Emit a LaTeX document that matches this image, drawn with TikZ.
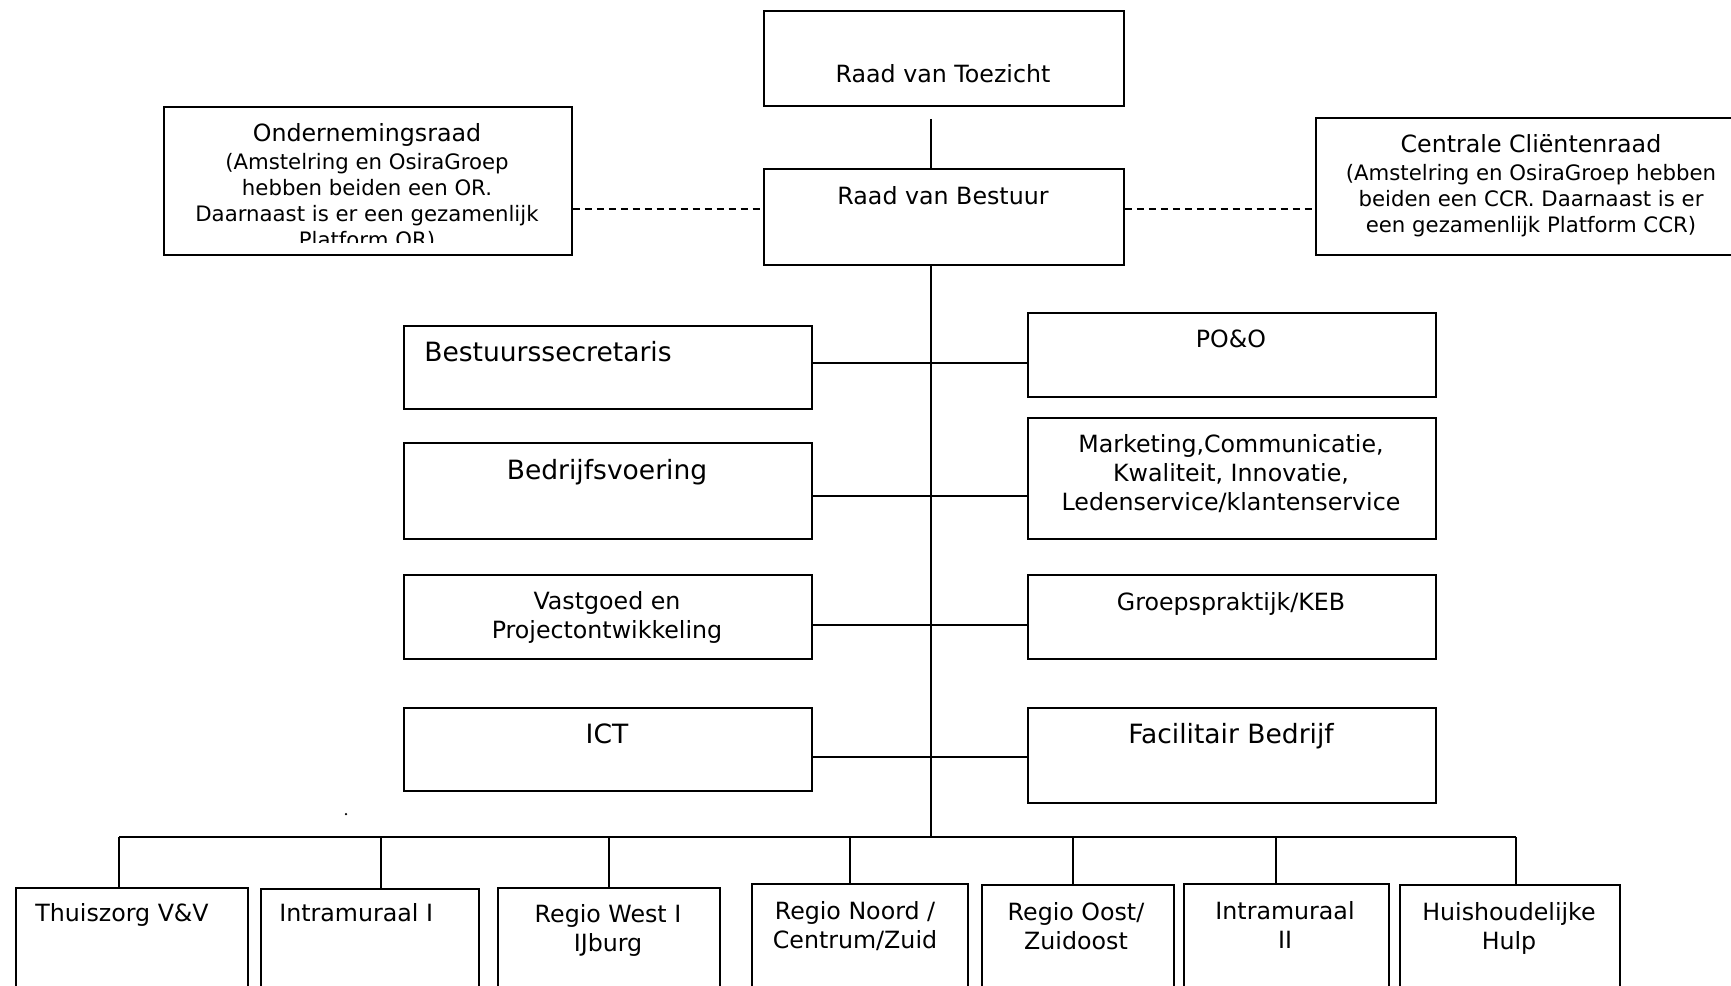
\documentclass[tikz,border=0pt]{standalone}
\usepackage{fontspec}
\setmainfont{DejaVu Sans}
\usetikzlibrary{positioning,calc}

\tikzset{
  box/.style={draw, line width=1pt, inner sep=0pt, anchor=north west},
  wh/.style n args={2}{minimum width=#1*0.02cm, minimum height=#2*0.02cm},
  txt/.style={inner sep=0pt, anchor=base, align=center, font=\fontsize{13.5}{16.5}\selectfont},
  big/.style={txt, font=\fontsize{15.1}{18}\selectfont},
  small/.style={txt, font=\fontsize{12.1}{14.7}\selectfont},
  conn/.style={line width=0.8pt},
  dotline/.style={line width=0.8pt, dash pattern=on 0.15cm off 0.09cm},
}

\begin{document}
\begin{tikzpicture}[x=0.02cm, y=-0.02cm]
\useasboundingbox (0,0) rectangle (1731,985);
\clip (0,0) rectangle (1731,985);

% top of the organisation
\node[box, wh={360}{95}]  (rvt) at (763,10) {};
\node[box, wh={360}{96}]  (rvb) at (763,168) {};
\node[box, wh={408}{148}] (or)  at (163,106) {};
\node[box, wh={416}{137}] (ccr) at (1315,117) {};

% staff
\node[box, wh={408}{83}]  (bsec)  at (403,325) {};
\node[box, wh={408}{96}]  (bedr)  at (403,442) {};
\node[box, wh={408}{84}]  (vast)  at (403,574) {};
\node[box, wh={408}{83}]  (ict)   at (403,707) {};
\node[box, wh={408}{84}]  (poo)   at (1027,312) {};
\node[box, wh={408}{121}] (mark)  at (1027,417) {};
\node[box, wh={408}{84}]  (groep) at (1027,574) {};
\node[box, wh={408}{95}]  (fac)   at (1027,707) {};

% line units
\node[box, wh={232}{150}] (thz)   at (15,887) {};
\node[box, wh={218}{150}] (intr1) at (260,888) {};
\node[box, wh={222}{150}] (west)  at (497,887) {};
\node[box, wh={216}{150}] (noord) at (751,883) {};
\node[box, wh={192}{150}] (oost)  at (981,884) {};
\node[box, wh={205}{150}] (intr2) at (1183,883) {};
\node[box, wh={220}{150}] (hh)    at (1399,884) {};

% labels (base = baseline of the last line)
\node[txt] (rvt-t) at (943,82) {Raad van Toezicht};
\node[txt] (rvb-t) at (943,204) {Raad van Bestuur};
\begin{scope}
  \clip (or.north west) rectangle (571,242);
  \node[small] (or-t) at (367,247) {{\fontsize{13.5}{14.7}\selectfont Ondernemingsraad}\\[0.04cm](Amstelring en OsiraGroep\\hebben beiden een OR.\\Daarnaast is er een gezamenlijk\\Platform OR)};
\end{scope}
\node[small] (ccr-t) at (1531,232) {{\fontsize{13.5}{14.7}\selectfont Centrale Cliëntenraad}\\[0.05cm](Amstelring en OsiraGroep hebben\\beiden een CCR. Daarnaast is er\\een gezamenlijk Platform CCR)};

\node[big, anchor=base west] (bsec-t) at (424,361) {Bestuurssecretaris};
\node[big] (bedr-t)  at (607,479) {Bedrijfsvoering};
\node[txt] (vast-t)  at (607,638) {Vastgoed en\\Projectontwikkeling};
\node[big] (ict-t)   at (607,743) {ICT};
\node[txt] (poo-t)   at (1231,347) {PO\&O};
\node[txt] (mark-t)  at (1231,510) {Marketing,Communicatie,\\Kwaliteit, Innovatie,\\Ledenservice/klantenservice};
\node[txt] (groep-t) at (1231,610) {Groepspraktijk/KEB};
\node[big] (fac-t)   at (1231,743) {Facilitair Bedrijf};

\node[txt, anchor=base west] (thz-t)   at (35,921) {Thuiszorg V\&V};
\node[txt, anchor=base west] (intr1-t) at (279,921) {Intramuraal I};
\node[txt] (west-t)  at (608,951) {Regio West I\\IJburg};
\node[txt] (noord-t) at (855,948) {Regio Noord /\\Centrum/Zuid};
\node[txt] (oost-t)  at (1076,949) {Regio Oost/\\Zuidoost};
\node[txt] (intr2-t) at (1285,948) {Intramuraal\\II};
\node[txt] (hh-t)    at (1509,949) {Huishoudelijke\\Hulp};

% connectors
\coordinate (bus) at (931,837);
\draw[conn] ($(rvt.south -| bus)+(0,12)$) -- (rvb.north -| bus);
\draw[conn] (rvb.south -| bus) -- (bus);
\draw[dotline] (or.east |- 0,209) -- (rvb.west |- 0,209);
\draw[dotline] (rvb.east |- 0,209) -- (ccr.west |- 0,209);
\foreach \l/\r/\y in {bsec/poo/363, bedr/mark/496, vast/groep/625, ict/fac/757}
  \draw[conn] (\l.east |- 0,\y) -- (\r.west |- 0,\y);
\draw[conn] (119,0 |- bus) -- (1516,0 |- bus);
\foreach \n/\x in {thz/119, intr1/381, west/609, noord/850, oost/1073, intr2/1276, hh/1516}
  \draw[conn] (\x,0 |- bus) -- (\x,0 |- \n.north);
\fill (346,814) circle[radius=0.025cm];
\end{tikzpicture}
\end{document}
